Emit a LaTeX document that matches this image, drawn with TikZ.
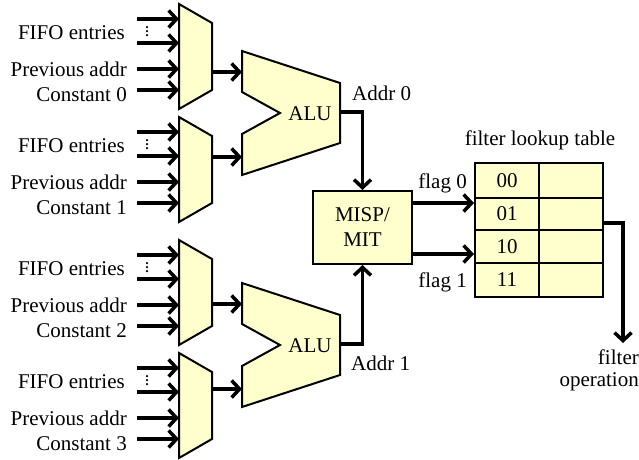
\documentclass[tikz,border=0pt]{standalone}
\usepackage{fontspec}
\setmainfont{Liberation Serif}
\usetikzlibrary{arrows.meta}

\definecolor{unitfill}{RGB}{255,255,206}

\begin{document}
\begin{tikzpicture}[x=1pt,y=-1pt,
  unit/.style={draw=black,line width=2pt,fill=unitfill,line join=miter},
  wire/.style={line width=3.5pt,-{Straight Barb[length=8pt,width=17pt]}},
  lbl/.style={inner sep=0pt,text height=14pt,text depth=0pt,font=\fontsize{21}{24}\selectfont},
  cell/.style={draw=black,line width=2pt,fill=unitfill},
  dotmark/.style={fill=black,draw=none}]

\useasboundingbox (0,0) rectangle (639,459);

% ---- input multiplexers ----
\foreach \t/\n/\k in {4/a/0,117/b/1,240/c/2,353/d/3}{
  \draw[unit] (179,\t) -- (212,\t+19) -- (212,\t+86) -- (179,\t+105) -- cycle;
  \coordinate (mux\n-i1) at (179,\t+15);
  \coordinate (mux\n-i2) at (179,\t+39);
  \coordinate (mux\n-i3) at (179,\t+65);
  \coordinate (mux\n-i4) at (179,\t+86);
  \coordinate (src\n-1) at (137,\t+15);
  \coordinate (src\n-2) at (137,\t+39);
  \coordinate (src\n-3) at (137,\t+65);
  \coordinate (src\n-4) at (137,\t+86);
  \draw[wire] (src\n-1) -- (mux\n-i1);
  \draw[wire] (src\n-2) -- (mux\n-i2);
  \draw[wire] (src\n-3) -- (mux\n-i3);
  \draw[wire] (src\n-4) -- (mux\n-i4);
  \node[lbl,anchor=east] (fifo\n) at (125,\t+28) {FIFO entries};
  \node[lbl,anchor=east] (prev\n) at (127,\t+65) {Previous addr};
  \node[lbl,anchor=east] (const\n) at (127,\t+90) {Constant \k};
  % vertical ellipsis between the FIFO entry inputs
  \foreach \d in {23,27,31}
    \fill[dotmark] (147,\t+\d) circle[radius=1.25pt];
}

% ---- ALUs ----
\foreach \t/\n in {51/u,283/v}{
  \draw[unit] (242,\t) -- (340,\t+32) -- (340,\t+92) -- (242,\t+124)
    -- (242,\t+83) -- (280,\t+62) -- (242,\t+41) -- cycle;
  \node[lbl] (alu\n) at (310,\t+62) {ALU};
  \coordinate (alu\n-in1) at (242,\t+21);
  \coordinate (alu\n-in2) at (242,\t+106);
  \coordinate (alu\n-out) at (340,\t+61);
}

% mux outputs into the ALUs
\coordinate (muxa-o) at (212,72);
\coordinate (muxb-o) at (212,157);
\coordinate (muxc-o) at (212,304);
\coordinate (muxd-o) at (212,389);
\draw[wire] (muxa-o) -- (aluu-in1);
\draw[wire] (muxb-o) -- (aluu-in2);
\draw[wire] (muxc-o) -- (aluv-in1);
\draw[wire] (muxd-o) -- (aluv-in2);

% ---- MISP/MIT block ----
\node[unit,minimum width=99pt,minimum height=73pt,inner sep=0pt,
      font=\fontsize{21}{25}\selectfont,align=center] (misp) at (362.5,227.5) {MISP/\\MIT};

\draw[wire] (aluu-out) -| (misp.north);
\draw[wire] (aluv-out) -| (misp.south);
\node[lbl,anchor=west] (addr0) at (352,93) {Addr 0};
\node[lbl,anchor=west] (addr1) at (351,363) {Addr 1};

% ---- filter lookup table ----
\foreach \y/\h/\r [count=\i] in {162/35/00,197/32/01,229/33/10,262/34/11}{
  \node[cell,minimum width=64pt,minimum height=\h pt,inner sep=0pt,anchor=north west,
        font=\fontsize{21}{24}\selectfont] (key\i) at (474,\y) {\r};
  \node[cell,minimum width=64pt,minimum height=\h pt,inner sep=0pt,anchor=north west] (val\i) at (538,\y) {};
}
\node[lbl] (lut) at (540,138) {filter lookup table};

\coordinate (lut-f0) at (474,203);
\coordinate (lut-f1) at (474,254);
\coordinate (misp-f0) at (412,203);
\coordinate (misp-f1) at (412,254);
\draw[wire] (misp-f0) -- (lut-f0);
\draw[wire] (misp-f1) -- (lut-f1);
\node[lbl,anchor=east] (flag0) at (467,181) {flag 0};
\node[lbl,anchor=east] (flag1) at (467,280) {flag 1};

% table output
\coordinate (lut-out) at (602,223);
\coordinate (filt-end) at (623,343);
\draw[wire] (lut-out) -| (filt-end);
\node[inner sep=0pt,anchor=north east,align=right,
      font=\fontsize{21}{22}\selectfont] (filtop) at (639,350) {filter\\operation};

\end{tikzpicture}
\end{document}
